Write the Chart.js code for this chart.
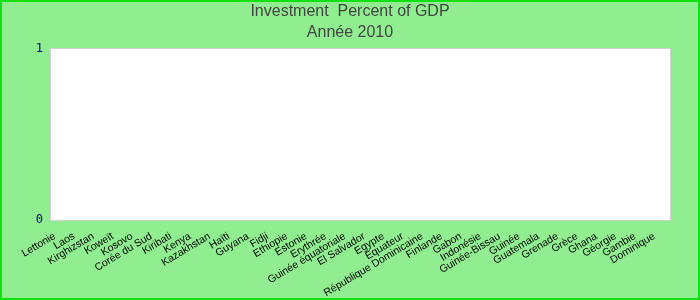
<!DOCTYPE html>
<html><head><meta charset="utf-8">
<script src="https://cdn.jsdelivr.net/npm/chart.js@4.4.0/dist/chart.umd.min.js"></script>
<style>html,body{margin:0;padding:0;background:#90EE90;}#c{display:block;}</style>
</head><body>
<div style="width:700px;height:300px"><canvas id="c" width="700" height="300"></canvas></div>
<script>
const categories = ["Lettonie","Laos","Kirghizstan","Koweït","Kosovo","Corée du Sud","Kiribati","Kenya","Kazakhstan","Haïti","Guyana","Fidji","Ethiopie","Estonie","Erythrée","Guinée équatoriale","El Salvador","Egypte","Equateur","République Dominicaine","Finlande","Gabon","Indonésie","Guinée-Bissau","Guinée","Guatemala","Grenade","Grèce","Ghana","Géorgie","Gambie","Dominique"];
const values = [0,0,0,0,0,0,0,0,0,0,0,0,0,0,0,0,0,0,0,0,0,0,0,0,0,0,0,0,0,0,0,0];
const yTicks = [0,1];
const titleLines = ["Investment  Percent of GDP","Année 2010"];

const bgPlugin = {
  id:'bg',
  beforeDraw(chart){
    const {ctx, chartArea:a, width, height} = chart;
    ctx.save();
    ctx.fillStyle = '#90EE90';
    ctx.fillRect(0,0,width,height);
    ctx.strokeStyle = '#11E011';
    ctx.lineWidth = 2;
    ctx.strokeRect(1,1,width-2,height-2);
    ctx.fillStyle = '#FFFFFF';
    ctx.fillRect(a.left,a.top,a.right-a.left,a.bottom-a.top);
    ctx.strokeStyle = '#D0D0D0';
    ctx.lineWidth = 1;
    ctx.strokeRect(a.left-0.5,a.top-0.5,a.right-a.left+1,a.bottom-a.top+1);
    // title
    ctx.fillStyle = '#444444';
    ctx.font = '16px "Liberation Sans", Arial';
    ctx.textAlign = 'center';
    ctx.textBaseline = 'middle';
    titleLines.forEach((t,i)=>ctx.fillText(t, width/2, 12 + i*21));
    ctx.restore();
  }
};

new Chart(document.getElementById('c'), {
  type:'bar',
  data:{labels:categories, datasets:[{data:values, backgroundColor:'#4472C4'}]},
  options:{
    responsive:false, animation:false,
    layout:{padding:{left:0,right:30,top:49,bottom:0}},
    plugins:{
      legend:{display:false},
      tooltip:{enabled:false},
      title:{display:false}
    },
    scales:{
      x:{
        grid:{display:false}, border:{display:false},
        ticks:{color:'#000000', font:{family:'Liberation Sans, Arial', size:10.5}, minRotation:31, maxRotation:31, autoSkip:false, padding:2, labelOffset:-6},
        afterFit(s){ s.height = 80; }
      },
      y:{
        min:0, max:1,
        grid:{display:false}, border:{display:false},
        afterBuildTicks(s){ s.ticks = yTicks.map(v=>({value:v})); },
        ticks:{color:'#00008B', font:{family:'DejaVu Sans Mono', size:12}, padding:0},
        afterFit(s){ s.width = 51; }
      }
    }
  },
  plugins:[bgPlugin]
});
</script>
</body></html>
